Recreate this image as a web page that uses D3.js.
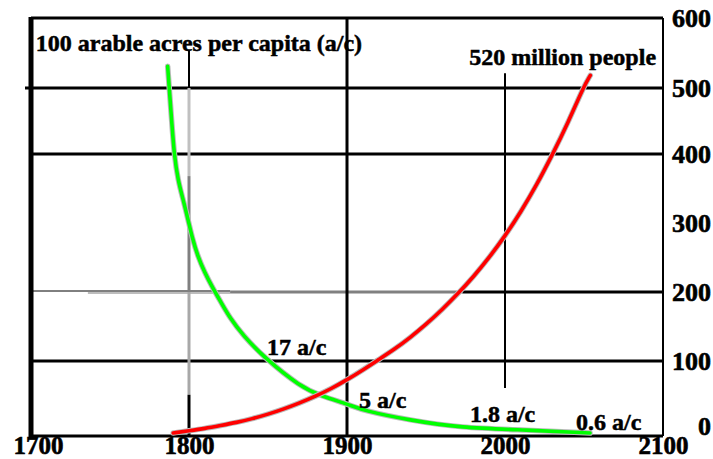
<!DOCTYPE html>
<html><head><meta charset="utf-8">
<script src="https://cdn.jsdelivr.net/npm/d3@7"></script>
<style>body{margin:0;background:#fff}svg{display:block}</style>
</head><body>
<svg id="c" width="713" height="459"></svg>
<script>
// ---- data ----
const xTicks = [1700, 1800, 1900, 2000, 2100];
const yTicks = [0, 100, 200, 300, 400, 500, 600];
const popYears  = [1790,1800,1810,1820,1830,1840,1850,1860,1870,1880,1890,1900,1910,1920,1930,1940,1950,1960,1970,1980,1990,2000,2010,2020,2030,2040,2050,2054];
const popValues = [4,7,10,14,18,23,29,36,44,53,63,75,88,102,117,134,153,174,197,222,250,281,316,355,399,448,503,518];
const acreYears  = [1786.5,1787.8,1789.2,1790.6,1793.0,1796.4,1799.6,1802.0,1805.5,1810.0,1815.0,1820.0,1826.0,1834.2,1848.1,1870.3,1884.0,1901.3,1910.0,1939.9,1971.5,2013.9,2053.8];
const acreValues = [531,490,445,400,362,333,303,279,252,228,206,186,162,137,104,66,53,42,34,21,11,8,4];
const titleText = "100 arable acres per capita (a/c)";
const popLabel = "520 million people";
const acreLabels = ["17 a/c", "5 a/c", "1.8 a/c", "0.6 a/c"];
const acreLabelYears = [1849.4, 1907.6, 1977.8, 2045];
const acreLabelValues = [109, 37, 19, 8];

// ---- scales ----
const svg = d3.select("#c");
const x = d3.scaleLinear().domain([1700, 2100]).range([31, 663]);
const y = d3.scaleLinear().domain([0, 100, 200, 400, 500, 600]).range([436, 361, 292, 154, 88, 18]);
const FONT = "'Liberation Serif','Times New Roman',serif";

const g = svg.append("g");
function seg(x1, y1, x2, y2, color, w) {
  g.append("line").attr("x1", x1).attr("y1", y1).attr("x2", x2).attr("y2", y2)
    .attr("stroke", color).attr("stroke-width", w);
}

// horizontal grid lines
seg(x(1700) - 6, y(500), x(2100), y(500), "#000", 3);
seg(x(1700), y(400), x(2100), y(400), "#000", 3);
seg(x(1700), y(100), x(2100), y(100), "#000", 3);
// 200 line, partly gray
seg(x(1700), y(200) - 1, x(1826), y(200) - 1, "#000", 1);
seg(x(1736), y(200) + 1, x(1826), y(200) + 1, "#bdbdbd", 2);
seg(x(1826), y(200), x(1973), y(200), "#808080", 3);
seg(x(1973), y(200), x(2100), y(200), "#000", 3);

// vertical grid lines
seg(x(1900), y(600), x(1900), y(0), "#000", 3);
seg(x(2000), y(521), x(2000), y(64), "#000", 2);
seg(x(1800), y(553), x(1800), y(500), "#000", 2);
seg(x(1800), y(500), x(1800), y(368), "#c0c0c0", 3);
seg(x(1800), y(368), x(1800), y(200), "#808080", 3);
seg(x(1800), y(200), x(1800), y(55), "#a8a8a8", 3);
seg(x(1800), y(55), x(1800), y(0), "#000", 3);

// frame
seg(x(1700), y(600), x(2100), y(600), "#000", 3);
seg(x(2100), y(600), x(2100), y(0), "#000", 2);
seg(x(1700) - 1, y(0), x(2100), y(0), "#000", 3);
seg(x(1700), y(600) - 1, x(1700), y(0) + 1, "#000", 5);

// curves
const popPts = popYears.map((d, i) => [x(d), y(popValues[i])]);
const acrePts = acreYears.map((d, i) => [x(d), y(acreValues[i])]);
const lineGen = d3.line().curve(d3.curveBasis);
function curve(path, color) {
  svg.append("path").attr("d", path).attr("fill", "none").attr("stroke", "#bbbbbb").attr("stroke-width", 5.5).attr("stroke-linecap", "round");
  svg.append("path").attr("d", path).attr("fill", "none").attr("stroke", color).attr("stroke-width", 3.6).attr("stroke-linecap", "round");
}
curve(lineGen(acrePts), "#00ff00");
curve(lineGen(popPts), "#ff0000");

// axes
const xAxis = svg.append("g").attr("transform", `translate(0,${y(0)})`)
  .call(d3.axisBottom(x).tickValues(xTicks).tickFormat(d3.format("d")).tickSize(0).tickPadding(0));
xAxis.select(".domain").remove();
xAxis.selectAll("text").attr("font-family", FONT).attr("font-weight", "bold")
  .attr("font-size", 25).attr("fill", "#000").attr("stroke", "#000").attr("stroke-width", 0.6)
  .attr("dx", d => d === 1700 ? 7 : 0).attr("dy", "0.7em");

const yAxis = svg.append("g").attr("transform", `translate(711,0)`)
  .call(d3.axisLeft(y).tickValues(yTicks).tickFormat(d3.format("d")).tickSize(0).tickPadding(0));
yAxis.select(".domain").remove();
yAxis.selectAll("text").attr("font-family", FONT).attr("font-weight", "bold")
  .attr("font-size", 26).attr("fill", "#000").attr("stroke", "#000").attr("stroke-width", 0.6)
  .attr("dy", d => d === 0 ? "-0.05em" : "0.32em");

// text labels
const txt = (s, xx, yy, anchor) => svg.append("text").text(s).attr("x", xx).attr("y", yy)
  .attr("text-anchor", anchor || "start").attr("font-family", FONT).attr("font-weight", "bold")
  .attr("font-size", 24).attr("fill", "#000").attr("stroke", "#000").attr("stroke-width", 0.5);
txt(titleText, x(1703), y(553));
txt(popLabel, x(2095.6), y(533), "end");
acreLabels.forEach((s, i) => txt(s, x(acreLabelYears[i]), y(acreLabelValues[i])));
</script>
</body></html>
